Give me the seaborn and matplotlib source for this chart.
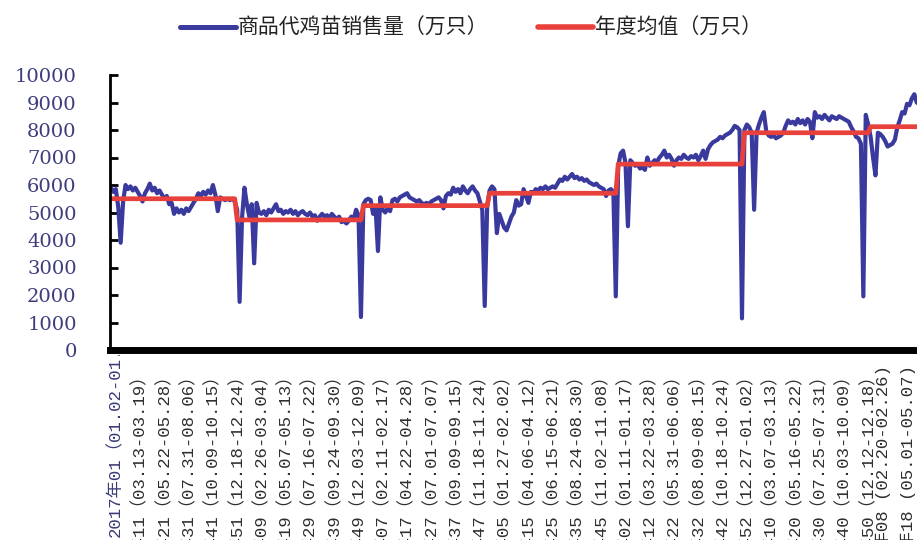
import matplotlib
matplotlib.use("Agg")
import numpy as np
import pandas as pd
import matplotlib.pyplot as plt
import seaborn as sns
from matplotlib.lines import Line2D
from matplotlib.transforms import (Bbox, TransformedBbox, ScaledTranslation,
                                   blended_transform_factory)

# ---- data -------------------------------------------------------------
years = [2017, 2018, 2019, 2020, 2021, 2022, 2023]
weeks_per_year = [52, 52, 52, 53, 52, 52, 23]
annual_mean = [5500, 4730, 5250, 5700, 6760, 7900, 8120]

sales_2017 = [5900, 5750, 5850, 5200, 3900, 5400, 6000, 5850, 5950, 5800,
              5900, 5750, 5600, 5400, 5700, 5850, 6050, 5800, 5900, 5700,
              5800, 5650, 5500, 5600, 5300, 5350, 4950, 5150, 5000, 5100,
              4950, 5150, 5050, 5200, 5350, 5500, 5700, 5600, 5750, 5650,
              5800, 5700, 6000, 5650, 5050, 5550, 5500, 5450, 5500, 5450,
              5500, 5400]
sales_2018 = [5100, 1750, 4800, 5900, 5300, 4850, 5300, 3150, 5350, 5000,
              4950, 5050, 4900, 5100, 5000, 5150, 5300, 5050, 5100, 4950,
              5050, 5000, 5100, 4950, 5050, 4900, 5000, 5050, 4950, 4900,
              5000, 4850, 4900, 4700, 4850, 4950, 4850, 4900, 4800, 4950,
              4850, 4750, 4850, 4650, 4700, 4600, 4700, 4850, 4750, 5100,
              4900, 1200]
sales_2019 = [5300, 5450, 5500, 5450, 4950, 5200, 3600, 5550, 5100, 5000,
              5150, 5050, 5450, 5500, 5400, 5550, 5600, 5650, 5700, 5550,
              5500, 5450, 5400, 5450, 5350, 5300, 5350, 5300, 5400, 5450,
              5500, 5550, 5450, 5150, 5600, 5700, 5650, 5900, 5750, 5850,
              5700, 5950, 5800, 5700, 5850, 5950, 5800, 5700, 5400, 5100,
              1600, 5200]
sales_2020 = [5800, 5950, 5850, 4250, 4950, 4700, 4450, 4350, 4600, 4850,
              5000, 5450, 5250, 5300, 5850, 5600, 5350, 5750, 5700, 5850,
              5800, 5900, 5850, 5950, 5850, 5900, 5950, 5900, 6050, 6200,
              6150, 6300, 6200, 6300, 6400, 6250, 6300, 6200, 6250, 6150,
              6200, 6100, 6050, 6000, 6050, 5950, 5900, 5850, 5600, 5800,
              5850, 5750, 1950]
sales_2021 = [6700, 7150, 7250, 6800, 4500, 6900, 6800, 6700, 6750, 6600,
              6650, 6550, 7000, 6700, 6800, 6900, 6850, 7000, 7100, 7250,
              7000, 7100, 6950, 6700, 6900, 7000, 6950, 7100, 7000, 6950,
              7050, 7000, 7100, 6900, 7050, 7250, 6950, 7300, 7450, 7550,
              7600, 7650, 7750, 7700, 7800, 7850, 7900, 8000, 8150, 8100,
              8000, 1150]
sales_2022 = [8000, 8200, 8100, 7900, 5100, 7900, 8200, 8450, 8650, 7950,
              7800, 7750, 7800, 7700, 7750, 7800, 7900, 8150, 8350, 8250,
              8300, 8200, 8400, 8250, 8350, 8200, 8400, 8300, 7700, 8650,
              8450, 8500, 8400, 8550, 8450, 8350, 8500, 8450, 8400, 8500,
              8450, 8400, 8350, 8300, 8100, 7950, 7750, 7700, 7500, 1950,
              8550, 8200]
sales_2023 = [7750, 7000, 6350, 7900, 7850, 7750, 7600, 7400, 7450, 7500,
              7650, 8100, 8350, 8650, 8600, 8950, 8900, 9150, 9300, 9000,
              8950, 8850, 8900]

tick_labels = [
    "2017年01（01.02-01.08）", "2017年11（03.13-03.19）", "2017年21（05.22-05.28）",
    "2017年31（07.31-08.06）", "2017年41（10.09-10.15）", "2017年51（12.18-12.24）",
    "2018年09（02.26-03.04）", "2018年19（05.07-05.13）", "2018年29（07.16-07.22）",
    "2018年39（09.24-09.30）", "2018年49（12.03-12.09）",
    "2019年07（02.11-02.17）", "2019年17（04.22-04.28）", "2019年27（07.01-07.07）",
    "2019年37（09.09-09.15）", "2019年47（11.18-11.24）",
    "2020年05（01.27-02.02）", "2020年15（04.06-04.12）", "2020年25（06.15-06.21）",
    "2020年35（08.24-08.30）", "2020年45（11.02-11.08）",
    "2021年02（01.11-01.17）", "2021年12（03.22-03.28）", "2021年22（05.31-06.06）",
    "2021年32（08.09-08.15）", "2021年42（10.18-10.24）", "2021年52（12.27-01.02）",
    "2022年10（03.07-03.13）", "2022年20（05.16-05.22）", "2022年30（07.25-07.31）",
    "2022年40（10.03-10.09）", "2022年50（12.12-12.18）",
    "2023年08 (02.20-02.26)", "2023年18 (05.01-05.07)",
]
tick_step = 10

series_sales = "商品代鸡苗销售量（万只）"
series_mean = "年度均值（万只）"

# ---- assemble weekly table --------------------------------------------
sales = (sales_2017 + sales_2018 + sales_2019 + sales_2020
         + sales_2021 + sales_2022 + sales_2023)
year_of_week = np.repeat(years, weeks_per_year)
mean_of_year = dict(zip(years, annual_mean))
df = pd.DataFrame({
    "week": np.arange(len(sales)),
    series_sales: sales,
    series_mean: [mean_of_year[y] for y in year_of_week],
})
long = df.melt(id_vars="week", var_name="series", value_name="value")

BLUE = "#3a3a9e"
RED = "#e8403a"

# ---- figure -------------------------------------------------------------
sns.set_theme(style="white")
plt.rcParams["font.family"] = ["Noto Sans CJK SC", "DejaVu Sans"]

W, H = 917, 540
fig = plt.figure(figsize=(W / 100, H / 100), dpi=100)
ax = fig.add_axes([110 / W, (H - 350) / H, (W - 110) / W + 0.005, 275 / H])

sns.lineplot(data=long, x="week", y="value", hue="series",
             palette={series_sales: BLUE, series_mean: RED},
             linewidth=3.0, ax=ax, legend=False, sort=False)
ax.lines[1].set_linewidth(3.4)

ax.set_xlim(-0.4, 334)
ax.set_ylim(0, 10000)
ax.set_xlabel("")
ax.set_ylabel("")

# y axis
ax.set_yticks(np.arange(0, 10001, 1000))
ax.set_yticklabels([str(v) for v in range(0, 10001, 1000)],
                   family=["DejaVu Serif"], fontsize=14, color="#3d3d7e")
ax.tick_params(axis="y", direction="in", length=6, width=2.0, color="black",
               pad=24, left=True)

# x axis
label_font = dict(family=["Liberation Mono", "Noto Sans CJK SC"], fontsize=12.5)
positions = np.arange(len(tick_labels)) * tick_step
ax.set_xticks(positions)
shown = [""] + tick_labels[1:]
ax.set_xticklabels(shown, rotation=90, color="#2e2e2e", **label_font)
ax.tick_params(axis="x", length=0, pad=11, bottom=True)
n = len(tick_labels)
for i, lab in enumerate(ax.get_xticklabels()):
    dx = 4 if i < n - 2 else -5
    lab.set_transform(lab.get_transform()
                      + ScaledTranslation(dx / 100, 0, fig.dpi_scale_trans))

# first category label sits lower and is cut off by the axis band
trans = blended_transform_factory(ax.transData, fig.transFigure)
first = ax.text(positions[0] + 1.5, 3 / H, tick_labels[0], rotation=90,
                ha="center", va="bottom", transform=trans,
                color="#3a3a78", **label_font)
first.set_clip_box(TransformedBbox(Bbox([[0, 0], [1, (H - 355) / H]]),
                                   fig.transFigure))
first.set_clip_on(True)

for side in ("top", "right"):
    ax.spines[side].set_visible(False)
ax.spines["left"].set_linewidth(2.0)
ax.spines["left"].set_color("black")
ax.spines["bottom"].set_linewidth(5.0)
ax.spines["bottom"].set_color("black")
ax.grid(False)

# legend across the top
handles = [Line2D([], [], color=BLUE, linewidth=3.6),
           Line2D([], [], color=RED, linewidth=4.0)]
fig.legend(handles, [series_sales, series_mean], loc="center",
           bbox_to_anchor=(0.514, 1 - 28 / H), ncol=2, frameon=False,
           handlelength=2.65, handletextpad=0.1, columnspacing=2.4,
           prop={"family": ["Noto Sans CJK SC"], "size": 15},
           labelcolor="#222222")

fig.savefig("out.png", dpi=100)
